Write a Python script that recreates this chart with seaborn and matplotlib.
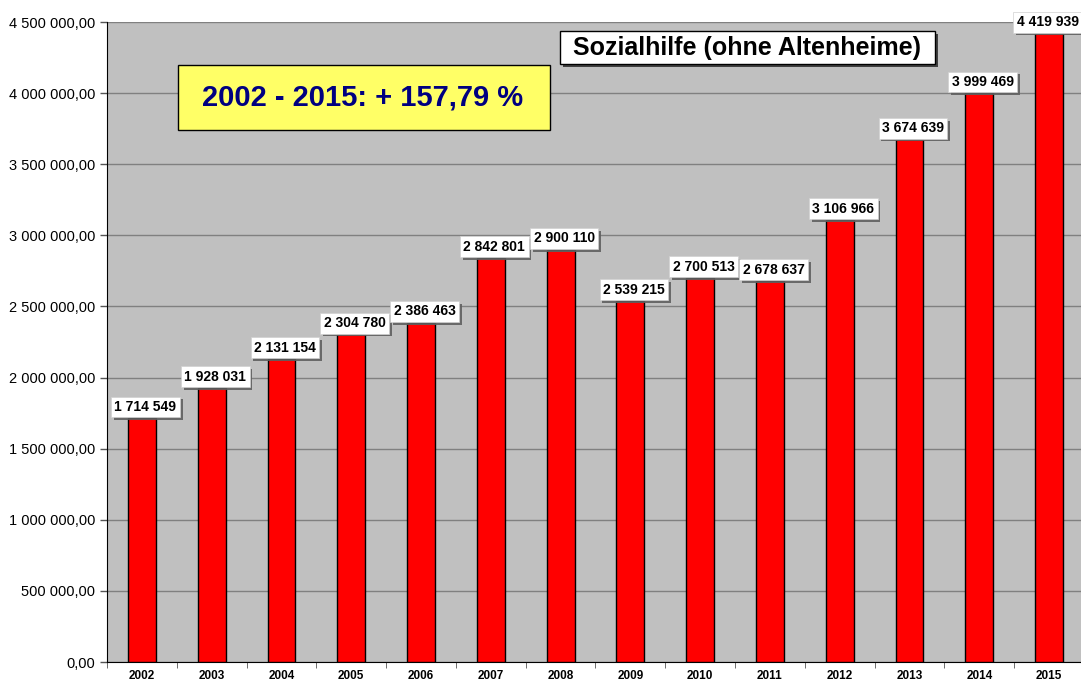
import matplotlib
matplotlib.use("Agg")
import matplotlib.pyplot as plt
import matplotlib.patheffects as pe
from matplotlib.patches import Rectangle
from matplotlib.ticker import FuncFormatter, FixedLocator
import seaborn as sns

years = ["2002", "2003", "2004", "2005", "2006", "2007", "2008",
         "2009", "2010", "2011", "2012", "2013", "2014", "2015"]
values = [1714549, 1928031, 2131154, 2304780, 2386463, 2842801, 2900110,
          2539215, 2700513, 2678637, 3106966, 3674639, 3999469, 4419939]
title = "Sozialhilfe (ohne Altenheime)"
note = "2002 - 2015: + 157,79 %"

sns.set_style("white", {"axes.facecolor": "#c0c0c0"})
plt.rcParams['font.family'] = ['Liberation Sans', 'DejaVu Sans']
plt.rcParams['text.color'] = 'black'
plt.rcParams['xtick.color'] = 'black'
plt.rcParams['ytick.color'] = 'black'

fig = plt.figure(figsize=(10.81, 6.82), dpi=100)
ax = fig.add_axes([107 / 1081, 20 / 682, 977 / 1081, 640 / 682])

sns.barplot(x=years, y=values, color="#ff0000", edgecolor="black",
            linewidth=1, width=0.4, saturation=1, ax=ax, zorder=3)

ax.set_ylim(0, 4500000)
ax.set_xlim(-0.5, len(years) - 0.5)
ax.yaxis.set_major_locator(FixedLocator(range(0, 4500001, 500000)))
ax.yaxis.set_major_formatter(FuncFormatter(
    lambda v, p: f"{v:,.2f}".replace(",", " ").replace(".", ",")))
ax.grid(axis="y", color="#808080", linewidth=1, zorder=0)
ax.set_axisbelow(True)

for s in ["top", "right"]:
    ax.spines[s].set_visible(False)
ax.spines["left"].set_color("black")
ax.spines["bottom"].set_color("black")

ax.tick_params(axis="y", length=5, width=1, color="#555555", labelsize=10.5, left=True)
ax.tick_params(axis="x", length=0, labelsize=8.5, pad=6)
for t in ax.get_xticklabels():
    t.set_fontweight("bold")
ax.set_xticks([i - 0.5 for i in range(len(years) + 1)], minor=True)
ax.tick_params(axis="x", which="minor", length=4, color="#555555", bottom=True)
ax.set_xlabel("")
ax.set_ylabel("")

# wertbeschriftungen
for i, v in enumerate(values):
    lbl = f"{v:,}".replace(",", " ")
    dx = 0.05 if i < len(values) - 1 else -0.02
    t = ax.annotate(lbl, (i + dx, v), xytext=(0, 3), textcoords="offset points",
                    ha="center", va="bottom", fontsize=10, fontweight="bold",
                    color="black", zorder=5, annotation_clip=False,
                    bbox=dict(boxstyle="square,pad=0.25", fc="white", ec="#d0d0d0", lw=0.5))
    t.get_bbox_patch().set_path_effects([
        pe.SimplePatchShadow(offset=(2, -2), shadow_rgbFace="#606060", alpha=0.9),
        pe.Normal()])

# titelbox
fig.add_artist(Rectangle((563 / 1081, 1 - 67 / 682), 375 / 1081, 33 / 682,
                         transform=fig.transFigure, fc="#404040", ec="none", zorder=6))
fig.add_artist(Rectangle((560 / 1081, 1 - 64 / 682), 375 / 1081, 33 / 682,
                         transform=fig.transFigure, fc="white", ec="black", lw=1, zorder=7))
fig.text(747 / 1081, 1 - 47.5 / 682, title, ha="center", va="center",
         fontsize=18, fontweight="bold", color="black", zorder=8)

# gelbe box
fig.add_artist(Rectangle((178 / 1081, 1 - 130 / 682), 372 / 1081, 65 / 682,
                         transform=fig.transFigure, fc="#ffff66", ec="black", lw=1, zorder=7))
fig.text(363 / 1081, 1 - 98 / 682, note, ha="center", va="center",
         fontsize=21, fontweight="bold", color="#000080", zorder=8)

fig.savefig("out.png", dpi=100)
